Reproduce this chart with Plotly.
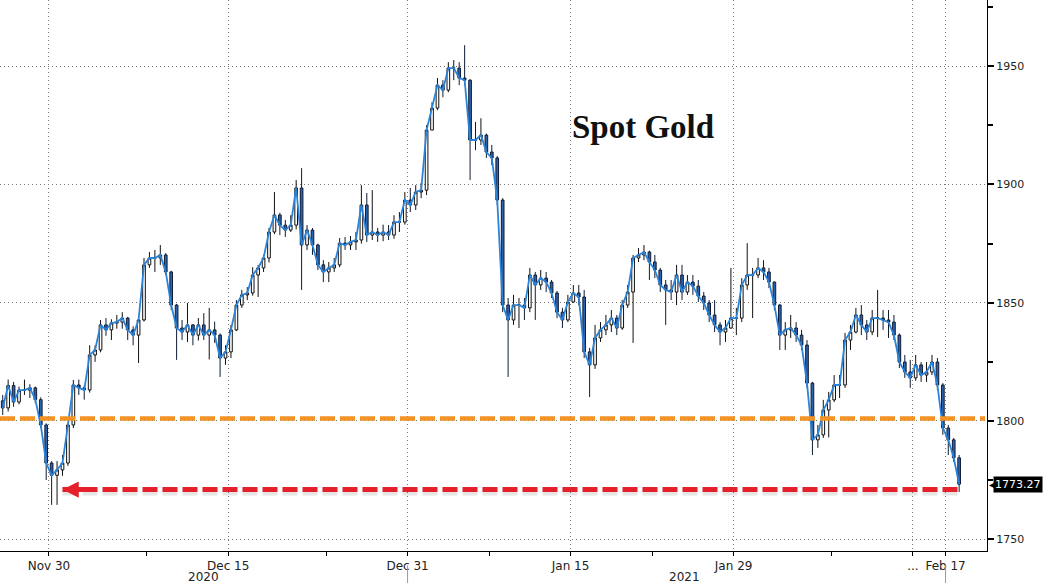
import pandas as pd
import plotly.graph_objects as go

# ---------------- data ----------------
FIRST_DAY = "2020-11-25"
LAST_DAY = "2021-02-17"
HOLIDAYS = ["2020-12-25", "2021-01-01"]
BAR_HOURS = [4, 12, 20]          # centres of the three 8-hour bars of each session

bar_open = [
    1808.5, 1805.5, 1815, 1808, 1813, 1813, 1814, 1809, 1798.3, 1782.2,
    1777, 1779.3, 1782.2, 1798.3, 1815.2, 1814, 1813.1, 1827.9, 1830, 1840.6,
    1838.5, 1841.4, 1841.8, 1843.5, 1838.5, 1836.3, 1842.7, 1866, 1868.9, 1868.9,
    1870.2, 1863, 1849, 1839.3, 1837.6, 1840.6, 1836.3, 1840.6, 1836.3, 1838.5,
    1836.3, 1826.6, 1829.2, 1838.5, 1849, 1853.3, 1854.1, 1861.7, 1864.7, 1868.9,
    1879.9, 1887.1, 1882.8, 1880.7, 1882.8, 1898.5, 1874.4, 1880.7, 1874.4, 1866,
    1863, 1864.7, 1866, 1875.2, 1874.4, 1875.7, 1876.5, 1891.3, 1878.6, 1879.9,
    1878.6, 1879.9, 1878.6, 1884.1, 1884.1, 1893.4, 1891.3, 1896.8, 1897.6, 1923,
    1932.3, 1942, 1939.9, 1949.2, 1949.2, 1945, 1944.1, 1918.8, 1918.8, 1920.9,
    1913.7, 1911.2, 1893.4, 1849, 1842.7, 1849, 1849, 1847.8, 1861.7, 1857.5,
    1860.4, 1858.7, 1854.1, 1846, 1842.7, 1850.3, 1854.1, 1852.4, 1829.2, 1823.7,
    1835.1, 1838.5, 1840.6, 1843.5, 1839.3, 1849, 1854.5, 1868.9, 1870.2, 1871.4,
    1867.2, 1863.8, 1857.5, 1855.4, 1854.5, 1861.7, 1854.5, 1858.7, 1857, 1852.8,
    1849.9, 1844.8, 1840.6, 1837.6, 1839.3, 1843.5, 1843.5, 1857.5, 1861.7, 1861.7,
    1864.7, 1863, 1858.7, 1849, 1836.3, 1838.5, 1839.3, 1836.3, 1832.1, 1816,
    1792, 1794.1, 1804.6, 1808.9, 1815.2, 1815.2, 1834.2, 1837.6, 1844.8, 1840.6,
    1837.6, 1843.5, 1843.5, 1842.7, 1841.8, 1836.3, 1824.9, 1820.7, 1818.2, 1823.7,
    1819.4, 1820.7, 1824.9, 1815.2, 1797, 1792, 1784.4,
]
bar_high = [
    1811, 1817.5, 1816.5, 1814.5, 1817.5, 1815.5, 1814.5, 1810, 1799, 1783,
    1783, 1785.6, 1799, 1817.3, 1817.5, 1815, 1832, 1832, 1842.7, 1843.5,
    1843, 1844.8, 1846, 1844, 1840, 1843, 1868.9, 1871.4, 1872.3, 1874.4,
    1871, 1863.5, 1849.5, 1842.7, 1849.9, 1841, 1843.5, 1845.6, 1847.8, 1842,
    1837, 1832, 1840.6, 1851.1, 1855.4, 1856.6, 1865, 1866, 1870.2, 1881.6,
    1896.8, 1888, 1885, 1887, 1901.9, 1906.9, 1882.8, 1881.6, 1875, 1868,
    1867.2, 1868.9, 1877.3, 1877.8, 1878.2, 1879.9, 1899.7, 1896.4, 1897.6, 1881.6,
    1883, 1882.8, 1887, 1888.3, 1896.8, 1898.5, 1899.7, 1900.6, 1925.1, 1934.8,
    1945, 1944.1, 1951.7, 1952.6, 1951.7, 1958.9, 1944.5, 1926.4, 1928, 1921.5,
    1916.7, 1912, 1894.2, 1852, 1853.3, 1852, 1852, 1864.7, 1863, 1863.8,
    1863, 1859.6, 1855, 1847.8, 1853.3, 1857.5, 1857.5, 1855.4, 1830.9, 1840.6,
    1841.8, 1844.8, 1846.9, 1844.8, 1851.1, 1857.5, 1870.2, 1873.1, 1874.4, 1872,
    1870.2, 1864.7, 1859.6, 1859.6, 1866, 1866, 1861.7, 1861.7, 1859.6, 1854.5,
    1851.1, 1851.1, 1841.8, 1842.7, 1864.7, 1847.8, 1860.4, 1875.2, 1864.7, 1868.9,
    1868, 1864.7, 1859, 1849.5, 1841.8, 1844.8, 1841.8, 1838.5, 1834.2, 1816.5,
    1798.3, 1808.9, 1812.3, 1819.4, 1819.4, 1837.2, 1840.6, 1847.8, 1849, 1842.7,
    1846.9, 1855.4, 1846.9, 1846.9, 1844.8, 1837, 1827.9, 1825.8, 1827.9, 1824.9,
    1824.9, 1827.9, 1826.6, 1816, 1798.3, 1792.8, 1785.6,
]
bar_low = [
    1802.5, 1804, 1806, 1807, 1811, 1809.7, 1807.5, 1797, 1775, 1764.5,
    1764.5, 1776.8, 1781, 1797, 1811, 1809, 1812, 1825, 1829, 1836,
    1834.2, 1839, 1839, 1834.2, 1832, 1824.5, 1842, 1864.7, 1863, 1866,
    1861.7, 1847, 1825.8, 1834.2, 1833.4, 1832, 1834, 1834.2, 1826, 1833,
    1818.6, 1823.7, 1826.6, 1838, 1847.8, 1851.1, 1853, 1852.4, 1863, 1867,
    1879, 1878.6, 1877.8, 1879.9, 1881, 1855.4, 1872.3, 1870.2, 1863.8, 1858.7,
    1858.7, 1863, 1865, 1872.3, 1872.3, 1872.3, 1875, 1875.7, 1876.5, 1875.7,
    1876, 1876.5, 1877, 1879.9, 1883, 1888.3, 1889.2, 1894.2, 1895.5, 1923,
    1931.4, 1936.9, 1939, 1944.1, 1942, 1942, 1901.9, 1914.5, 1916.7, 1911.2,
    1908.2, 1891.3, 1846, 1818.6, 1840.6, 1839.3, 1842.7, 1846, 1842.7, 1855.4,
    1854.5, 1852, 1843.5, 1839.3, 1841.8, 1850, 1849, 1826.6, 1810.1, 1822,
    1833.4, 1836.3, 1837.6, 1836.3, 1838.5, 1847.8, 1833, 1867.2, 1868, 1859.6,
    1860.4, 1854.5, 1840.6, 1851.1, 1849, 1851.1, 1853.3, 1853.3, 1850.3, 1846.9,
    1841.8, 1837.6, 1832, 1833.4, 1839, 1836.3, 1841.8, 1855.4, 1843.5, 1860.4,
    1859.6, 1856.2, 1846.9, 1830, 1830, 1835.1, 1833.4, 1830, 1814, 1785.6,
    1788.6, 1792.8, 1793, 1808, 1809.7, 1814, 1830, 1837, 1836.3, 1834.2,
    1836.3, 1835.5, 1838.5, 1835.1, 1834.2, 1822.4, 1818.2, 1814, 1817, 1816.5,
    1816.5, 1819.4, 1813.1, 1794.1, 1785.6, 1782.7, 1770,
]
bar_close = [
    1805.5, 1815, 1808, 1813, 1813, 1814, 1809, 1798.3, 1782.2, 1777,
    1779.3, 1782.2, 1798.3, 1815.2, 1814, 1813.1, 1827.9, 1830, 1840.6, 1838.5,
    1841.4, 1841.8, 1843.5, 1838.5, 1836.3, 1842.7, 1866, 1868.9, 1868.9, 1870.2,
    1863, 1849, 1839.3, 1837.6, 1840.6, 1836.3, 1840.6, 1836.3, 1838.5, 1836.3,
    1826.6, 1829.2, 1838.5, 1849, 1853.3, 1854.1, 1861.7, 1864.7, 1868.9, 1879.9,
    1887.1, 1882.8, 1880.7, 1882.8, 1898.5, 1874.4, 1880.7, 1874.4, 1866, 1863,
    1864.7, 1866, 1875.2, 1874.4, 1875.7, 1876.5, 1891.3, 1878.6, 1879.9, 1878.6,
    1879.9, 1878.6, 1884.1, 1884.1, 1893.4, 1891.3, 1896.8, 1897.6, 1923, 1932.3,
    1942, 1939.9, 1949.2, 1949.2, 1945, 1944.1, 1918.8, 1918.8, 1920.9, 1913.7,
    1911.2, 1893.4, 1849, 1842.7, 1849, 1849, 1847.8, 1861.7, 1857.5, 1860.4,
    1858.7, 1854.1, 1846, 1842.7, 1850.3, 1854.1, 1852.4, 1829.2, 1823.7, 1835.1,
    1838.5, 1840.6, 1843.5, 1839.3, 1849, 1854.5, 1868.9, 1870.2, 1871.4, 1867.2,
    1863.8, 1857.5, 1855.4, 1854.5, 1861.7, 1854.5, 1858.7, 1857, 1852.8, 1849.9,
    1844.8, 1840.6, 1837.6, 1839.3, 1843.5, 1843.5, 1857.5, 1861.7, 1861.7, 1864.7,
    1863, 1858.7, 1849, 1836.3, 1838.5, 1839.3, 1836.3, 1832.1, 1816, 1792,
    1794.1, 1804.6, 1808.9, 1815.2, 1815.2, 1834.2, 1837.6, 1844.8, 1840.6, 1837.6,
    1843.5, 1843.5, 1842.7, 1841.8, 1836.3, 1824.9, 1820.7, 1818.2, 1823.7, 1819.4,
    1820.7, 1824.9, 1815.2, 1797, 1792, 1784.4, 1773.27,
]

SUPPORT_LEVEL = 1801          # orange dashed line
ARROW_LEVEL = 1771            # red dashed arrow
ARROW_TIP = "2020-11-30 20:00"

X_TICKS = ["2020-11-30", "2020-12-15", "2020-12-31", "2021-01-15",
           "2021-01-29", "2021-02-15", "2021-02-17"]
X_TICK_TEXT = ["Nov 30", "Dec 15", "Dec 31", "Jan 15", "Jan 29", "...", "Feb 17"]
X_MINOR_TICKS = ["2020-12-08", "2020-12-23", "2021-01-08", "2021-01-22", "2021-02-08"]
Y_TICKS = [1750, 1800, 1850, 1900, 1950]
Y_MINOR_TICKS = [1775, 1825, 1875, 1925, 1975]
YEAR_LABELS = ["2020", "2021"]
YEAR_LABEL_POS = ["2020-12-11 12:00", "2021-01-26 00:00"]
YEAR_SEPARATORS = ["2020-12-31", "2021-02-17"]
X_RANGE = ["2020-11-25 00:00", "2021-02-19 13:00"]
Y_RANGE = [1745, 1978]

# ---------------- build ----------------
days = [d for d in pd.bdate_range(FIRST_DAY, LAST_DAY)
        if d.strftime("%Y-%m-%d") not in HOLIDAYS]
bar_time = [d + pd.Timedelta(hours=h) for d in days for h in BAR_HOURS]

fig = go.Figure()
fig.add_trace(go.Candlestick(
    x=bar_time, open=bar_open, high=bar_high, low=bar_low, close=bar_close,
    increasing=dict(line=dict(color="#111111", width=1), fillcolor="#ffffff"),
    decreasing=dict(line=dict(color="#101c33", width=1), fillcolor="#2d62ad"),
    whiskerwidth=0, hoverinfo="skip", showlegend=False,
))
fig.add_trace(go.Scatter(
    x=bar_time, y=bar_close, mode="lines",
    line=dict(color="#2a84da", width=1.8), hoverinfo="skip", showlegend=False,
))

# orange reference line
fig.add_shape(type="line", xref="paper", x0=0, x1=0.998, yref="y",
              y0=SUPPORT_LEVEL, y1=SUPPORT_LEVEL,
              line=dict(color="#F39325", width=4.5, dash="15px,5px"))
# red arrow: shadow + dashed line + head
fig.add_shape(type="line", xref="x", x0=ARROW_TIP, x1=bar_time[-1], yref="y",
              y0=ARROW_LEVEL - 1.3, y1=ARROW_LEVEL - 1.3,
              line=dict(color="rgba(0,0,0,0.10)", width=6, dash="15px,5px"))
fig.add_shape(type="line", xref="x", x0=ARROW_TIP, x1=bar_time[-1], yref="y",
              y0=ARROW_LEVEL, y1=ARROW_LEVEL,
              line=dict(color="#E5202B", width=5, dash="15px,5px"))
fig.add_annotation(x=ARROW_TIP, y=ARROW_LEVEL, xref="x", yref="y", text="",
                   showarrow=True, ax=22, ay=0, arrowhead=2, arrowsize=0.65,
                   arrowwidth=5, arrowcolor="#E5202B", standoff=0)

# separator lines under the axis
for xs in YEAR_SEPARATORS:
    fig.add_shape(type="line", xref="x", x0=xs, x1=xs, yref="paper",
                  y0=-0.026, y1=-0.06, line=dict(color="#999999", width=1))

for txt, pos in zip(YEAR_LABELS, YEAR_LABEL_POS):
    fig.add_annotation(x=pos, y=-0.047, xref="x", yref="paper", text=txt,
                       showarrow=False, yanchor="middle", xanchor="center",
                       font=dict(family="DejaVu Sans", size=12, color="#222222"))

fig.add_annotation(x=0.651, y=0.77, xref="paper", yref="paper",
                   text="<b>Spot Gold</b>", showarrow=False,
                   xanchor="center", yanchor="middle",
                   font=dict(family="Liberation Serif", size=33, color="#111111"))

# last price tag
fig.add_annotation(x=1, y=bar_close[-1], xref="paper", yref="y",
                   text="◀", showarrow=False, xanchor="left", yanchor="middle",
                   xshift=0, font=dict(family="DejaVu Sans", size=10, color="#000000"))
fig.add_annotation(x=1, y=bar_close[-1], xref="paper", yref="y",
                   text=f"{bar_close[-1]:.2f}", showarrow=False, xanchor="left",
                   yanchor="middle", xshift=6, bgcolor="#000000", borderpad=1,
                   font=dict(family="DejaVu Sans", size=11, color="#ffffff"))

fig.update_layout(
    width=1044, height=583,
    margin=dict(l=0, r=57, t=0, b=32),
    paper_bgcolor="white", plot_bgcolor="white",
    font=dict(family="DejaVu Sans", size=12, color="#222222"),
    showlegend=False,
    xaxis=dict(
        type="date", range=X_RANGE,
        rangebreaks=[dict(bounds=["sat", "mon"]), dict(values=HOLIDAYS)],
        rangeslider=dict(visible=False),
        tickmode="array", tickvals=X_TICKS, ticktext=X_TICK_TEXT,
        tickfont=dict(family="DejaVu Sans", size=12, color="#222222"),
        ticks="outside", ticklen=4, tickcolor="#000000",
        showgrid=True, gridcolor="#777777", griddash="1px,3px", gridwidth=1,
        showline=True, linecolor="#000000", linewidth=1,
        minor=dict(tickvals=X_MINOR_TICKS, ticks="outside", ticklen=4,
                   tickcolor="#000000", showgrid=False),
        zeroline=False,
    ),
    yaxis=dict(
        side="right", range=Y_RANGE,
        tickmode="array", tickvals=Y_TICKS,
        tickfont=dict(family="DejaVu Sans", size=11, color="#222222"),
        ticks="outside", ticklen=6, tickwidth=2, tickcolor="#000000",
        showgrid=True, gridcolor="#777777", griddash="1px,3px", gridwidth=1,
        showline=True, linecolor="#000000", linewidth=1,
        minor=dict(tickvals=Y_MINOR_TICKS, ticks="outside", ticklen=5,
                   tickcolor="#000000", showgrid=False),
        zeroline=False,
    ),
)

fig.write_html("out.html",
               config={"displayModeBar": False, "staticPlot": True},
               post_script="document.body.style.margin='0';"
                           "document.body.style.overflow='hidden';")
